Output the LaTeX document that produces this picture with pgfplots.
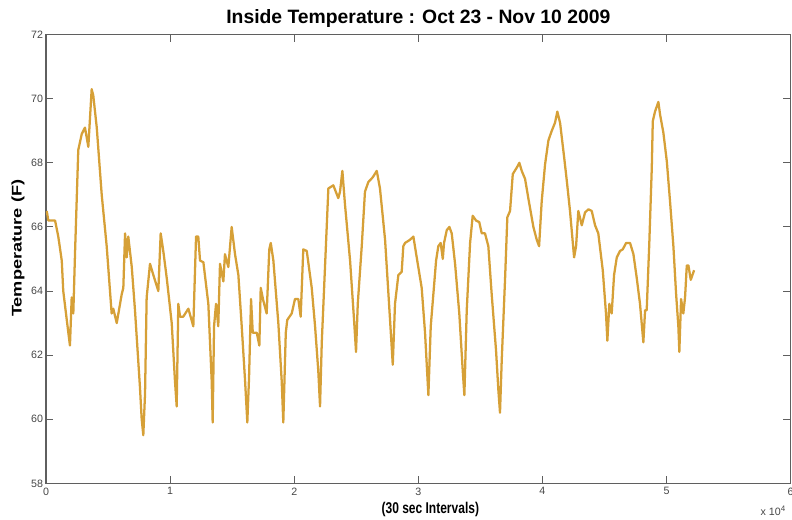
\documentclass[border=0pt]{standalone}
\usepackage{pgfplots}
\pgfplotsset{compat=1.18}
\usepackage{fontspec}
\setmainfont{Liberation Sans}
\definecolor{tempcol}{RGB}{214,160,55}
\definecolor{axcol}{RGB}{95,95,95}
\definecolor{labcol}{RGB}{70,70,70}

\begin{document}
\begin{tikzpicture}
\begin{axis}[
  name=ax,
  scale only axis,
  width=558.5pt, height=336.5pt,
  xmin=0, xmax=6, ymin=58, ymax=72,
  xtick={0,1,...,6}, ytick={58,60,...,72},
  tick align=inside, major tick length=5.5pt,
  axis line style={axcol, line width=0.8pt},
  every tick/.style={axcol, line width=0.8pt},
  tick label style={font=\fontsize{8}{9}\selectfont, text=labcol},
  /pgf/number format/assume math mode=true,
  xticklabel style={inner sep=0pt, yshift=-3pt},
  yticklabel style={inner sep=0pt, xshift=-2pt},
]
\addplot[tempcol, line width=1.7pt, line join=round] coordinates {
(0.006,66.5) (0.019,66.2) (0.073,66.2) (0.099,65.7) (0.127,64.95) (0.139,64.0)
(0.180,62.7) (0.193,62.3) (0.207,63.8) (0.220,63.3) (0.234,65.2) (0.260,68.4)
(0.288,68.9) (0.314,69.1) (0.341,68.5) (0.368,70.3) (0.381,70.1) (0.409,69.1)
(0.449,67.0) (0.489,65.4) (0.529,63.3) (0.542,63.45) (0.570,63.0) (0.610,63.9)
(0.623,64.1) (0.637,65.8) (0.650,65.05) (0.663,65.7) (0.691,64.75) (0.717,63.4)
(0.757,61.0) (0.771,60.0) (0.784,59.5) (0.798,60.8) (0.811,63.8) (0.838,64.85)
(0.865,64.5) (0.905,64.0) (0.924,65.8) (0.945,65.25) (0.973,64.4) (1.013,63.0)
(1.039,61.2) (1.053,60.4) (1.066,63.6) (1.080,63.2) (1.106,63.2) (1.147,63.45)
(1.187,62.9) (1.209,65.7) (1.227,65.7) (1.241,64.95) (1.268,64.9) (1.308,63.6)
(1.335,61.2) (1.343,59.9) (1.354,62.9) (1.370,63.6) (1.388,62.9) (1.402,64.85)
(1.429,64.3) (1.442,65.15) (1.469,64.75) (1.496,66.0) (1.523,65.15) (1.550,64.5)
(1.577,62.9) (1.604,61.2) (1.622,59.9) (1.636,61.3) (1.652,63.75) (1.666,62.7)
(1.698,62.7) (1.719,62.3) (1.730,64.1) (1.751,63.7) (1.778,63.3) (1.799,65.3)
(1.811,65.5) (1.832,64.95) (1.872,63.0) (1.899,61.2) (1.912,59.9) (1.932,62.7)
(1.944,63.1) (1.980,63.3) (2.006,63.75) (2.033,63.75) (2.052,63.2) (2.073,65.3)
(2.101,65.25) (2.141,64.1) (2.168,62.9) (2.194,61.5) (2.208,60.4) (2.222,62.4)
(2.248,64.75) (2.275,67.2) (2.315,67.3) (2.355,66.9) (2.369,67.1) (2.388,67.75)
(2.409,66.7) (2.450,64.95) (2.482,63.1) (2.498,62.1) (2.512,63.6) (2.544,65.4)
(2.570,67.1) (2.597,67.4) (2.633,67.55) (2.665,67.75) (2.691,67.2) (2.732,65.6)
(2.772,63.1) (2.794,61.7) (2.812,63.6) (2.839,64.5) (2.866,64.6) (2.879,65.4)
(2.893,65.5) (2.933,65.6) (2.960,65.7) (2.987,65.05) (3.027,64.1) (3.054,62.7)
(3.081,60.75) (3.100,62.9) (3.121,63.9) (3.143,64.95) (3.161,65.4) (3.180,65.5)
(3.197,65.0) (3.207,65.5) (3.229,65.9) (3.250,66.0) (3.269,65.8) (3.296,64.85)
(3.330,63.3) (3.358,61.5) (3.371,60.75) (3.390,63.4) (3.417,65.5) (3.438,66.35)
(3.465,66.2) (3.491,66.15) (3.511,65.8) (3.537,65.8) (3.564,65.4) (3.591,63.9)
(3.626,62.15) (3.645,60.9) (3.658,60.2) (3.672,61.85) (3.699,64.4) (3.717,66.3)
(3.739,66.5) (3.761,67.65) (3.793,67.85) (3.814,68.0) (3.833,67.75) (3.860,67.5)
(3.886,66.9) (3.927,66.0) (3.954,65.6) (3.973,65.4) (3.994,66.8) (4.021,67.95)
(4.048,68.7) (4.075,69.0) (4.101,69.25) (4.120,69.6) (4.142,69.25) (4.174,68.2)
(4.196,67.45) (4.222,66.5) (4.255,65.05) (4.271,65.4) (4.289,66.5) (4.317,66.05)
(4.343,66.45) (4.370,66.55) (4.397,66.5) (4.424,66.05) (4.450,65.8) (4.486,64.65)
(4.512,63.3) (4.523,62.45) (4.539,63.6) (4.558,63.3) (4.577,64.5) (4.599,65.05)
(4.625,65.25) (4.647,65.3) (4.674,65.5) (4.706,65.5) (4.733,65.15) (4.760,64.4)
(4.786,63.6) (4.813,62.4) (4.827,63.4) (4.840,63.4) (4.861,65.5) (4.881,67.85)
(4.889,69.3) (4.907,69.6) (4.934,69.9) (4.948,69.5) (4.974,68.95) (5.002,68.05)
(5.028,66.8) (5.055,65.4) (5.077,63.9) (5.095,62.9) (5.103,62.1) (5.117,63.75)
(5.135,63.3) (5.149,63.8) (5.163,64.8) (5.176,64.8) (5.195,64.35) (5.222,64.65)
};
\end{axis}
\node[anchor=base, font=\fontsize{14.5}{16}\selectfont\bfseries] at ([yshift=8pt]ax.north) {Inside Temperature : Oct 23 - Nov 10 2009};
\node[anchor=base, font=\fontsize{9}{10}\selectfont\bfseries] at ([xshift=9pt,yshift=-23pt]ax.south) {\scalebox{1}[1.3]{(30 sec Intervals)}};
\node[anchor=base east, font=\fontsize{8}{9}\selectfont, text=labcol] at ([xshift=0pt,yshift=-24pt]ax.south east) {x 10\textsuperscript{4}};
\node[rotate=90, anchor=center, font=\fontsize{10.5}{11}\selectfont\bfseries] at ([xshift=-21pt,yshift=8pt]ax.west) {\scalebox{1.3}[1]{Temperature (F)}};
\pgfresetboundingbox
\path[use as bounding box] ([shift={(-34.5pt,-27.5pt)}]ax.south west) rectangle ([shift={(1pt,26pt)}]ax.north east);
\end{tikzpicture}
\end{document}
